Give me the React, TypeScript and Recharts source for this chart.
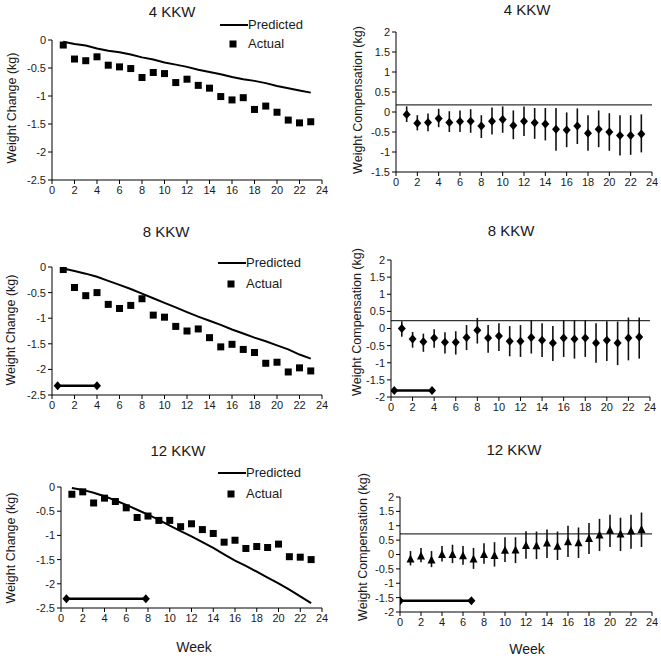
import React from 'react';
import { ComposedChart, Line, Scatter, XAxis, YAxis, ReferenceLine, ErrorBar } from 'recharts';

// weeks 1..23 for every series
const weeks = [1, 2, 3, 4, 5, 6, 7, 8, 9, 10, 11, 12, 13, 14, 15, 16, 17, 18, 19, 20, 21, 22, 23];
const weekTicks = [0, 2, 4, 6, 8, 10, 12, 14, 16, 18, 20, 22, 24];
const changeTicks = [0, -0.5, -1, -1.5, -2, -2.5];
const compTicks4 = [2, 1.5, 1, 0.5, 0, -0.5, -1, -1.5];
const compTicks = [2, 1.5, 1, 0.5, 0, -0.5, -1, -1.5, -2];
const seriesNames = ['Predicted', 'Actual'];

// 4 KKW
const predicted4 = [-0.03, -0.07, -0.1, -0.15, -0.19, -0.22, -0.26, -0.31, -0.35, -0.4, -0.44, -0.48, -0.53, -0.57, -0.61, -0.66, -0.7, -0.73, -0.77, -0.82, -0.86, -0.9, -0.94];
const actual4 = [-0.09, -0.34, -0.37, -0.3, -0.45, -0.48, -0.51, -0.67, -0.58, -0.6, -0.76, -0.7, -0.81, -0.86, -1.01, -1.07, -1.03, -1.24, -1.18, -1.29, -1.43, -1.48, -1.46];
const comp4 = [-0.06, -0.28, -0.26, -0.16, -0.26, -0.24, -0.23, -0.35, -0.23, -0.19, -0.34, -0.23, -0.27, -0.3, -0.43, -0.45, -0.35, -0.53, -0.43, -0.5, -0.59, -0.59, -0.55];
const comp4Low = [-0.25, -0.46, -0.48, -0.38, -0.5, -0.5, -0.52, -0.65, -0.56, -0.52, -0.68, -0.6, -0.67, -0.71, -0.97, -0.88, -0.8, -0.97, -0.88, -0.97, -1.09, -1.07, -1.01];
const comp4High = [0.14, -0.08, -0.04, 0.08, 0.02, 0.04, 0.07, -0.08, 0.11, 0.14, 0.04, 0.14, 0.1, 0.1, 0.1, -0.01, 0.09, -0.08, 0.04, -0.03, -0.08, -0.08, -0.06];
const refLevel4 = 0.18;

// 8 KKW
const predicted8 = [-0.03, -0.08, -0.13, -0.19, -0.27, -0.35, -0.43, -0.52, -0.61, -0.7, -0.79, -0.88, -0.97, -1.05, -1.13, -1.22, -1.3, -1.38, -1.45, -1.53, -1.61, -1.71, -1.79];
const actual8 = [-0.05, -0.4, -0.56, -0.5, -0.73, -0.81, -0.75, -0.62, -0.94, -0.98, -1.16, -1.25, -1.21, -1.38, -1.56, -1.51, -1.61, -1.67, -1.88, -1.86, -2.05, -1.97, -2.03];
const comp8 = [0.0, -0.31, -0.39, -0.28, -0.4, -0.4, -0.26, -0.05, -0.28, -0.22, -0.37, -0.37, -0.26, -0.34, -0.42, -0.28, -0.31, -0.28, -0.42, -0.34, -0.42, -0.28, -0.25];
const comp8Low = [-0.24, -0.56, -0.68, -0.56, -0.73, -0.76, -0.63, -0.44, -0.71, -0.66, -0.81, -0.83, -0.73, -0.83, -0.95, -0.83, -0.88, -0.83, -1.0, -0.95, -1.07, -0.93, -0.88];
const comp8High = [0.21, -0.1, -0.15, -0.02, -0.11, -0.08, 0.1, 0.31, 0.1, 0.15, 0.07, 0.1, 0.24, 0.15, 0.07, 0.24, 0.24, 0.24, 0.15, 0.21, 0.2, 0.32, 0.32];
const refLevel8 = 0.23;
const period8Weeks = [0.5, 4];
const period8Level = -2.32;
const period8CompWeeks = [0.3, 3.8];
const period8CompLevel = -1.81;

// 12 KKW
const predicted12 = [-0.02, -0.06, -0.12, -0.19, -0.28, -0.37, -0.47, -0.57, -0.68, -0.8, -0.91, -1.02, -1.14, -1.26, -1.39, -1.52, -1.63, -1.75, -1.87, -1.99, -2.12, -2.26, -2.4];
const actual12 = [-0.15, -0.1, -0.33, -0.23, -0.3, -0.43, -0.63, -0.6, -0.69, -0.69, -0.82, -0.76, -0.88, -0.96, -1.14, -1.1, -1.27, -1.23, -1.25, -1.18, -1.44, -1.45, -1.5];
const comp12 = [-0.17, -0.07, -0.21, -0.02, -0.02, -0.06, -0.17, -0.02, -0.05, 0.13, 0.14, 0.3, 0.29, 0.38, 0.27, 0.43, 0.39, 0.54, 0.66, 0.83, 0.7, 0.8, 0.85];
const comp12Low = [-0.38, -0.27, -0.44, -0.24, -0.3, -0.36, -0.5, -0.32, -0.42, -0.26, -0.3, -0.15, -0.16, -0.12, -0.19, -0.09, -0.12, 0.02, 0.12, 0.26, 0.12, 0.2, 0.26];
const comp12High = [0.12, 0.23, 0.12, 0.3, 0.34, 0.3, 0.23, 0.39, 0.43, 0.6, 0.6, 0.81, 0.8, 0.87, 0.8, 1.0, 0.94, 1.1, 1.24, 1.38, 1.28, 1.38, 1.46];
const refLevel12 = 0.72;
const period12Weeks = [0.5, 7.8];
const period12Level = -2.31;
const period12CompWeeks = [0, 6.8];
const period12CompLevel = -1.61;

const FONT = '"Liberation Sans", Arial, sans-serif';
const TEXT = '#1a1a1a';
const YW = 44;
const MT = 10;
const XH = 24;

type Box = { left: number; top: number; right: number; bottom: number };

const Square = (p: any) => <rect x={p.cx - 3.5} y={p.cy - 3.5} width={7} height={7} fill="#000" />;
const Diamond = (p: any) => (
  <polygon points={`${p.cx},${p.cy - 4.5} ${p.cx + 4},${p.cy} ${p.cx},${p.cy + 4.5} ${p.cx - 4},${p.cy}`} fill="#000" />
);
const Triangle = (p: any) => (
  <polygon points={`${p.cx},${p.cy - 5} ${p.cx + 4},${p.cy + 3} ${p.cx - 4},${p.cy + 3}`} fill="#000" />
);

const periodRows = (ws: number[], level: number) => ws.map((w) => ({ week: w, level }));

// legend block: line swatch + "Predicted", square + "Actual"
const LegendBlock = ({ x, y, gap }: { x: number; y: number; gap: number }) => (
  <div style={{ position: 'absolute', left: x, top: y, fontFamily: FONT, fontSize: 13, color: TEXT, lineHeight: '16px' }}>
    <div style={{ display: 'flex', alignItems: 'center', height: 16 }}>
      <svg width={28} height={12}>
        <line x1={0} y1={6} x2={28} y2={6} stroke="#000" strokeWidth={2} />
      </svg>
      <span>{seriesNames[0]}</span>
    </div>
    <div style={{ display: 'flex', alignItems: 'center', height: 16, marginTop: gap - 16 }}>
      <svg width={28} height={12}>
        <rect x={9.5} y={2.5} width={7} height={7} fill="#000" />
      </svg>
      <span>{seriesNames[1]}</span>
    </div>
  </div>
);

const frame = (box: Box) => ({
  left: box.left - YW,
  top: box.top - MT,
  width: box.right - box.left + YW + 6,
  height: box.bottom - box.top + MT + XH,
});

const axisProps = {
  stroke: '#000',
  tick: { fill: TEXT, fontSize: 11 },
  tickSize: 4,
  interval: 0 as const,
  allowDataOverflow: true,
};

const ChangePanel = ({ box, predicted, actual, period, level }: any) => {
  const f = frame(box);
  const rows = weeks.map((w, i) => ({ week: w, predicted: predicted[i], actual: actual[i] }));
  return (
    <div style={{ position: 'absolute', left: f.left, top: f.top }}>
      <ComposedChart width={f.width} height={f.height} data={rows} margin={{ top: MT, right: 6, left: 0, bottom: 0 }}>
        <XAxis dataKey="week" type="number" domain={[0, 24]} ticks={weekTicks} height={XH} {...axisProps} />
        <YAxis type="number" domain={[-2.5, 0]} ticks={changeTicks} width={YW} {...axisProps} />
        <Line name={seriesNames[0]} dataKey="predicted" type="linear" stroke="#000" strokeWidth={2} dot={false} isAnimationActive={false} />
        <Scatter name={seriesNames[1]} dataKey="actual" shape={Square} fill="#000" isAnimationActive={false} />
        {period && (
          <Scatter
            data={periodRows(period, level)}
            dataKey="level"
            shape={Diamond}
            fill="#000"
            line={{ stroke: '#000', strokeWidth: 2.5 }}
            isAnimationActive={false}
          />
        )}
      </ComposedChart>
    </div>
  );
};

const CompPanel = ({ box, values, low, high, refLevel, ticks, domain, marker, period, level }: any) => {
  const f = frame(box);
  const rows = weeks.map((w, i) => ({ week: w, comp: values[i], err: [values[i] - low[i], high[i] - values[i]] }));
  return (
    <div style={{ position: 'absolute', left: f.left, top: f.top }}>
      <ComposedChart width={f.width} height={f.height} data={rows} margin={{ top: MT, right: 6, left: 0, bottom: 0 }}>
        <XAxis dataKey="week" type="number" domain={[0, 24]} ticks={weekTicks} height={XH} {...axisProps} />
        <YAxis type="number" domain={domain} ticks={ticks} width={YW} {...axisProps} />
        <ReferenceLine y={refLevel} stroke="#333" strokeWidth={1.2} />
        <Scatter dataKey="comp" shape={marker} fill="#000" isAnimationActive={false}>
          <ErrorBar dataKey="err" direction="y" width={0} stroke="#111" strokeWidth={1.6} />
        </Scatter>
        {period && (
          <Scatter
            data={periodRows(period, level)}
            dataKey="level"
            shape={Diamond}
            fill="#000"
            line={{ stroke: '#000', strokeWidth: 2.5 }}
            isAnimationActive={false}
          />
        )}
      </ComposedChart>
    </div>
  );
};

const titles = [
  { t: '4 KKW', x: 172, y: 11 },
  { t: '4 KKW', x: 527, y: 9 },
  { t: '8 KKW', x: 166, y: 231 },
  { t: '8 KKW', x: 511, y: 230 },
  { t: '12 KKW', x: 178, y: 450 },
  { t: '12 KKW', x: 514, y: 449 },
];
const yLabels = [
  { t: 'Weight Change (kg)', x: 12, y: 108 },
  { t: 'Weight Compensation (kg)', x: 358, y: 100 },
  { t: 'Weight Change (kg)', x: 11, y: 330 },
  { t: 'Weight Compensation (kg)', x: 357, y: 322 },
  { t: 'Weight Change (kg)', x: 11, y: 548 },
  { t: 'Weight Compensation (kg)', x: 363, y: 547 },
];

export default function App() {
  return (
    <div style={{ position: 'absolute', left: 0, top: 0, width: 661, height: 656, background: '#fff', fontFamily: FONT, overflow: 'hidden' }}>
      <ChangePanel box={{ left: 52, top: 40, right: 322, bottom: 180 }} predicted={predicted4} actual={actual4} />
      <CompPanel box={{ left: 396, top: 32, right: 652, bottom: 172 }} values={comp4} low={comp4Low} high={comp4High} refLevel={refLevel4} ticks={compTicks4} domain={[-1.5, 2]} marker={Diamond} />
      <ChangePanel box={{ left: 52, top: 267, right: 322, bottom: 395 }} predicted={predicted8} actual={actual8} period={period8Weeks} level={period8Level} />
      <CompPanel box={{ left: 391, top: 260, right: 650, bottom: 397 }} values={comp8} low={comp8Low} high={comp8High} refLevel={refLevel8} ticks={compTicks} domain={[-2, 2]} marker={Diamond} period={period8CompWeeks} level={period8CompLevel} />
      <ChangePanel box={{ left: 61, top: 487, right: 322, bottom: 608 }} predicted={predicted12} actual={actual12} period={period12Weeks} level={period12Level} />
      <CompPanel box={{ left: 400, top: 497, right: 652, bottom: 612 }} values={comp12} low={comp12Low} high={comp12High} refLevel={refLevel12} ticks={compTicks} domain={[-2, 2]} marker={Triangle} period={period12CompWeeks} level={period12CompLevel} />
      <LegendBlock x={220} y={17} gap={19} />
      <LegendBlock x={218} y={255} gap={21} />
      <LegendBlock x={218} y={465} gap={21} />
      <svg width={661} height={656} style={{ position: 'absolute', left: 0, top: 0, pointerEvents: 'none' }}>
        {titles.map((d, i) => (
          <text key={'t' + i} x={d.x} y={d.y} textAnchor="middle" dominantBaseline="central" fontSize={15} fill={TEXT}>{d.t}</text>
        ))}
        {yLabels.map((d, i) => (
          <text key={'y' + i} x={d.x} y={d.y} transform={`rotate(-90 ${d.x} ${d.y})`} textAnchor="middle" dominantBaseline="central" fontSize={12.5} fill={TEXT}>{d.t}</text>
        ))}
        <text x={194} y={647} textAnchor="middle" dominantBaseline="central" fontSize={14} fill={TEXT}>Week</text>
        <text x={527} y={649} textAnchor="middle" dominantBaseline="central" fontSize={14} fill={TEXT}>Week</text>
      </svg>
    </div>
  );
}
